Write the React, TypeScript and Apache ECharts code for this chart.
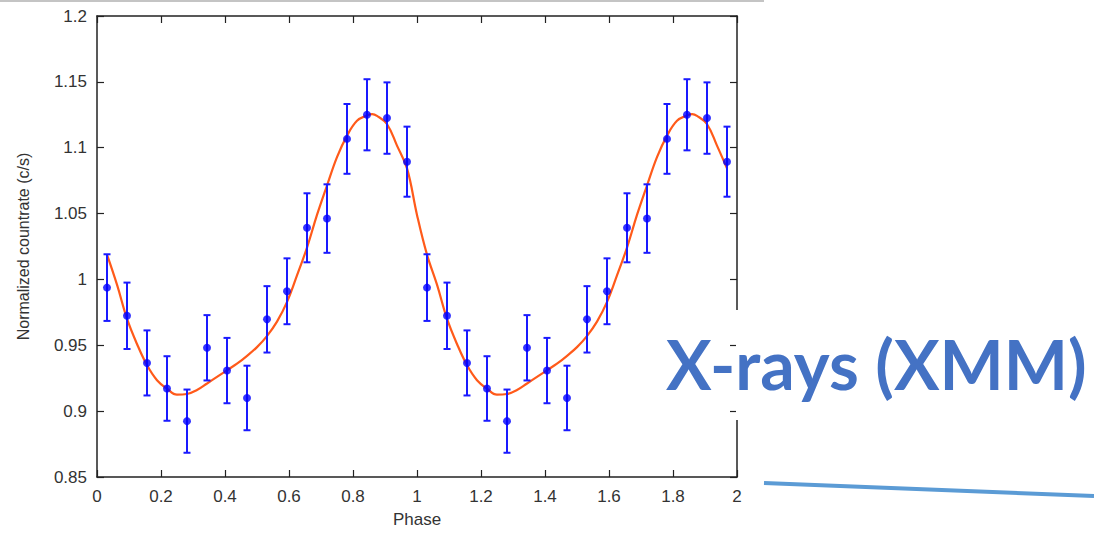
import React, { useEffect, useRef } from "react";
import * as echarts from "echarts";

// Observed data points (phase, normalized countrate, error half-width)
const pointPhase = [
  0.03125, 0.09375, 0.15625, 0.21875, 0.28125, 0.34375, 0.40625, 0.46875,
  0.53125, 0.59375, 0.65625, 0.71875, 0.78125, 0.84375, 0.90625, 0.96875,
  1.03125, 1.09375, 1.15625, 1.21875, 1.28125, 1.34375, 1.40625, 1.46875,
  1.53125, 1.59375, 1.65625, 1.71875, 1.78125, 1.84375, 1.90625, 1.96875,
];
const pointValue = [
  0.9938, 0.9724, 0.9366, 0.9172, 0.8924, 0.9481, 0.9308, 0.91,
  0.9697, 0.991, 1.0392, 1.0462, 1.1067, 1.125, 1.1225, 1.0894,
  0.9938, 0.9724, 0.9366, 0.9172, 0.8924, 0.9481, 0.9308, 0.91,
  0.9697, 0.991, 1.0392, 1.0462, 1.1067, 1.125, 1.1225, 1.0894,
];
const pointError = [
  0.0253, 0.0252, 0.0247, 0.0245, 0.024, 0.0248, 0.0248, 0.0245,
  0.0252, 0.025, 0.0262, 0.026, 0.0265, 0.027, 0.0271, 0.0266,
  0.0253, 0.0252, 0.0247, 0.0245, 0.024, 0.0248, 0.0248, 0.0245,
  0.0252, 0.025, 0.0262, 0.026, 0.0265, 0.027, 0.0271, 0.0266,
];

// Fitted model curve
const curvePhase = [
  0.031, 0.0625, 0.094, 0.125, 0.156, 0.1875, 0.219, 0.25, 0.281, 0.3125,
  0.344, 0.375, 0.406, 0.4375, 0.469, 0.5, 0.531, 0.5625, 0.594, 0.625,
  0.656, 0.6875, 0.719, 0.75, 0.781, 0.8125, 0.844, 0.86, 0.875, 0.906,
  0.9375, 0.969, 1.0,
  1.031, 1.0625, 1.094, 1.125, 1.156, 1.1875, 1.219, 1.25, 1.281, 1.3125,
  1.344, 1.375, 1.406, 1.4375, 1.469, 1.5, 1.531, 1.5625, 1.594, 1.625,
  1.656, 1.6875, 1.719, 1.75, 1.781, 1.8125, 1.844, 1.86, 1.875, 1.906,
  1.9375, 1.969,
];
const curveValue = [
  1.019, 0.996, 0.97, 0.951, 0.935, 0.9235, 0.917, 0.9125, 0.913, 0.916,
  0.921, 0.926, 0.931, 0.936, 0.942, 0.9486, 0.957, 0.968, 0.983, 1.003,
  1.024, 1.049, 1.0715, 1.0929, 1.109, 1.1204, 1.1245, 1.1255, 1.1242, 1.118,
  1.1016, 1.0841, 1.049,
  1.019, 0.996, 0.97, 0.951, 0.935, 0.9235, 0.917, 0.9125, 0.913, 0.916,
  0.921, 0.926, 0.931, 0.936, 0.942, 0.9486, 0.957, 0.968, 0.983, 1.003,
  1.024, 1.049, 1.0715, 1.0929, 1.109, 1.1204, 1.1245, 1.1255, 1.1242, 1.118,
  1.1016, 1.0841,
];

const xTitle = "Phase";
const yTitle = "Normalized countrate (c/s)";
const annotation = "X-rays (XMM)";

export default function App() {
  const ref = useRef<HTMLDivElement>(null);

  useEffect(() => {
    if (!ref.current) return;
    const chart = echarts.init(ref.current, undefined, { renderer: "svg" });

    const scatterData = pointPhase.map((p, i) => [p, pointValue[i]]);
    const errData = pointPhase.map((p, i) => [
      p,
      pointValue[i] - pointError[i],
      pointValue[i] + pointError[i],
    ]);
    const curveData = curvePhase.map((p, i) => [p, curveValue[i]]);

    const axisColor = "#222";
    const labelFont = {
      color: "#333",
      fontSize: 17,
      fontFamily: "Liberation Sans, Arial, sans-serif",
    };

    chart.setOption({
      animation: false,
      backgroundColor: "#ffffff",
      grid: { left: 97, right: 357, top: 16, bottom: 52 },
      xAxis: [
        {
          type: "value",
          min: 0,
          max: 2,
          interval: 0.2,
          position: "bottom",
          name: xTitle,
          nameLocation: "middle",
          nameGap: 34,
          nameTextStyle: { ...labelFont, fontSize: 17 },
          axisLine: { show: true, onZero: false, lineStyle: { color: axisColor, width: 1.5 } },
          axisTick: { show: true, inside: true, length: 7, lineStyle: { color: axisColor, width: 1.2 } },
          axisLabel: { ...labelFont, margin: 11 },
          splitLine: { show: false },
        },
        {
          type: "value",
          min: 0,
          max: 2,
          interval: 0.2,
          position: "top",
          axisLine: { show: true, onZero: false, lineStyle: { color: axisColor, width: 1.5 } },
          axisTick: { show: true, inside: true, length: 7, lineStyle: { color: axisColor, width: 1.2 } },
          axisLabel: { show: false },
          splitLine: { show: false },
        },
      ],
      yAxis: [
        {
          type: "value",
          min: 0.85,
          max: 1.2,
          interval: 0.05,
          position: "left",
          name: yTitle,
          nameLocation: "middle",
          nameGap: 66,
          nameRotate: 90,
          nameTextStyle: { ...labelFont, fontSize: 16 },
          axisLine: { show: true, onZero: false, lineStyle: { color: axisColor, width: 1.5 } },
          axisTick: { show: true, inside: true, length: 7, lineStyle: { color: axisColor, width: 1.2 } },
          axisLabel: { ...labelFont, margin: 10 },
          splitLine: { show: false },
        },
        {
          type: "value",
          min: 0.85,
          max: 1.2,
          interval: 0.05,
          position: "right",
          axisLine: { show: true, onZero: false, lineStyle: { color: axisColor, width: 1.5 } },
          axisTick: { show: true, inside: true, length: 7, lineStyle: { color: axisColor, width: 1.2 } },
          axisLabel: { show: false },
          splitLine: { show: false },
        },
      ],
      series: [
        {
          type: "line",
          data: curveData,
          smooth: 0.4,
          showSymbol: false,
          symbol: "none",
          lineStyle: { color: "#ff5a1a", width: 2.2 },
          z: 3,
        },
        {
          type: "custom",
          data: errData,
          z: 4,
          renderItem: (params: any, api: any) => {
            const x = api.value(0);
            const lo = api.coord([x, api.value(1)]);
            const hi = api.coord([x, api.value(2)]);
            const cap = 3.5;
            const style = { stroke: "#1a1aff", lineWidth: 2 };
            return {
              type: "group",
              children: [
                { type: "line", shape: { x1: lo[0], y1: lo[1], x2: hi[0], y2: hi[1] }, style },
                { type: "line", shape: { x1: lo[0] - cap, y1: lo[1], x2: lo[0] + cap, y2: lo[1] }, style },
                { type: "line", shape: { x1: hi[0] - cap, y1: hi[1], x2: hi[0] + cap, y2: hi[1] }, style },
              ],
            };
          },
        },
        {
          type: "scatter",
          data: scatterData,
          symbol: "circle",
          symbolSize: 8,
          itemStyle: { color: "#0000ff" },
          z: 5,
        },
      ],
      graphic: [
        {
          type: "line",
          shape: { x1: 0, y1: 1, x2: 764, y2: 1 },
          style: { stroke: "#c4c4c4", lineWidth: 2 },
          z: 10,
        },
        {
          type: "rect",
          shape: { x: 736, y: 310, width: 358, height: 110 },
          style: { fill: "#ffffff" },
          z: 10,
        },
        {
          type: "text",
          x: 666,
          y: 363,
          style: {
            text: annotation,
            fill: "#4472c4",
            font: "bold 68px Lato, 'Open Sans', sans-serif",
            textAlign: "left",
            textVerticalAlign: "middle",
          },
          z: 11,
        },
        {
          type: "line",
          shape: { x1: 764, y1: 483, x2: 1094, y2: 496 },
          style: { stroke: "#5b9bd5", lineWidth: 4 },
          z: 10,
        },
      ],
    });

    return () => chart.dispose();
  }, []);

  return (
    <div
      ref={ref}
      style={{ position: "fixed", left: 0, top: 0, width: 1094, height: 533, background: "#fff" }}
    />
  );
}
